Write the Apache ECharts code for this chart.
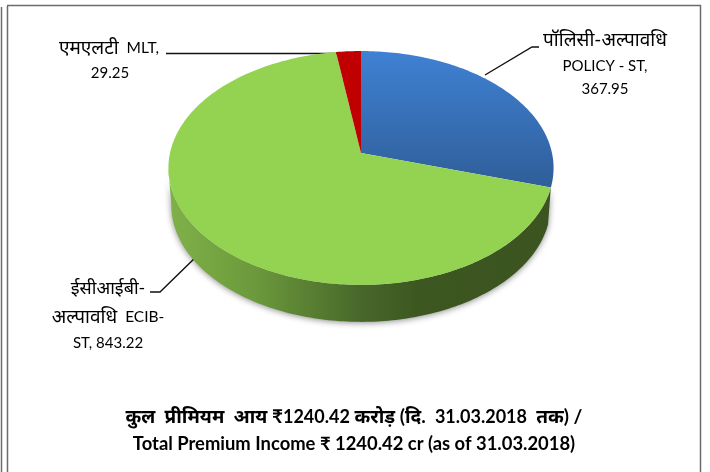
<!DOCTYPE html>
<html>
<head>
<meta charset="utf-8">
<style>
  html, body { margin: 0; padding: 0; background: #fff; }
  #chart { width: 710px; height: 472px; }
</style>
<script src="https://cdn.jsdelivr.net/npm/echarts@6/dist/echarts.min.js"></script>
</head>
<body>
<div id="chart"></div>
<script>
const chart = echarts.init(document.getElementById('chart'))

const categories = ['POLICY - ST', 'ECIB-ST', 'MLT']
const hindiNames = ['पॉलिसी-अल्पावधि', 'ईसीआईबी-', 'एमएलटी']
const premiumValues = [367.95, 843.22, 29.25]
const totalPremium = 1240.42
const asOfDate = '31.03.2018'

const fontFamily = 'Lato, "Noto Sans", "Noto Sans Devanagari", sans-serif'

// tilted disc: a circle seen in perspective, apex is not the ellipse centre
const apexX = 361
const apexY = 153
const radiusX = 191
const radiusY = 115
const tilt = -0.128
const depth = 37
const frontEnd = 262.6

const total = premiumValues.reduce((a, b) => a + b, 0)

const project = (deg, shrink, drop) => {
  const t = deg * Math.PI / 180
  const u = Math.sin(t)
  const v = -Math.cos(t)
  const d = 1 + tilt * v
  return [apexX + radiusX * shrink * u / d, apexY + radiusY * v / d + drop]
}

const arc = (from, to, shrink, drop) => {
  const pts = []
  const n = Math.max(2, Math.ceil(Math.abs(to - from)))
  for (let i = 0; i <= n; i++) {
    pts.push(project(from + (to - from) * i / n, shrink, drop))
  }
  return pts
}

const blueFill = new echarts.graphic.LinearGradient(0, 0, 0, 1, [
  { offset: 0, color: '#3f81d3' },
  { offset: 1, color: '#2f5e99' }
])
const greenFill = '#94d352'
const redFill = '#c00000'
const topFills = [blueFill, greenFill, redFill]

const wallFill = new echarts.graphic.LinearGradient(0, 0, 1, 0, [
  { offset: 0, color: '#80b148' },
  { offset: 0.22, color: '#6c9a3c' },
  { offset: 0.5, color: '#48682a' },
  { offset: 0.65, color: '#3d5721' },
  { offset: 1, color: '#3b5420' }
])

const renderSlice = (params, api) => {
  const value = api.value(0)
  let before = 0
  for (let i = 0; i < params.dataIndex; i++) before += premiumValues[i]
  const start = before / total * 360
  const end = (before + value) / total * 360
  const children = []

  // only the big slice shows its side, the rest of the rim faces away
  if (start < frontEnd && end > frontEnd) {
    const rim = arc(start, frontEnd, 1, 0)
    const base = arc(frontEnd, start, 0.985, depth)
    children.push({
      type: 'polygon',
      z2: 1,
      shape: { points: rim.concat(base) },
      style: {
        fill: wallFill,
        shadowBlur: 6,
        shadowColor: 'rgba(0,0,0,0.45)',
        shadowOffsetY: 1
      }
    })
  }

  children.push({
    type: 'polygon',
    z2: 10,
    shape: { points: [[apexX, apexY]].concat(arc(start, end, 1, 0)) },
    style: { fill: topFills[params.dataIndex] }
  })
  return { type: 'group', children: children }
}

// hindi runs need a bigger size than latin ones to look the same height
const hi = (s) => '{h|' + s + '}'
const en = (s) => '{e|' + s + '}'

const label = (text, x, y, hindiSize, latinSize, weight) => ({
  type: 'text',
  x: x,
  y: y,
  style: {
    text: text,
    fill: '#000',
    align: 'center',
    verticalAlign: 'middle',
    rich: {
      h: { fontFamily: fontFamily, fontSize: hindiSize, fontWeight: weight || 'normal', fill: '#000' },
      e: { fontFamily: fontFamily, fontSize: latinSize, fontWeight: weight || 'normal', fill: '#000' }
    }
  }
})

const leader = (points) => ({
  type: 'polyline',
  shape: { points: points },
  style: { stroke: '#111', lineWidth: 1.4, fill: null }
})

const frameLine = (x1, y1, x2, y2) => ({
  type: 'line',
  shape: { x1: x1, y1: y1, x2: x2, y2: y2 },
  style: { stroke: '#6b6b6b', lineWidth: 1.5 }
})

let option = {
  backgroundColor: '#fff',
  animation: false,
  tooltip: { show: false },
  graphic: [
    frameLine(1.5, 7, 1.5, 472),
    frameLine(7.5, 6, 7.5, 472),
    frameLine(7, 5.5, 701, 5.5),
    frameLine(700.5, 5, 700.5, 472),

    leader([[166, 53.5], [337, 53.5]]),
    leader([[485, 75], [532, 47], [539, 47]]),
    leader([[199, 254], [160, 292], [150, 292]]),

    label(hi(hindiNames[2]) + en('  ' + categories[2] + ','), 109, 48, 19, 15.5),
    label(en(String(premiumValues[2])), 110, 73, 18, 15),

    label(hi(hindiNames[0]), 605, 40, 19, 15),
    label(en(categories[0] + ','), 605, 66, 18, 15),
    label(en(String(premiumValues[0])), 605, 89, 18, 15),

    label(hi(hindiNames[1]), 108, 288, 18, 15),
    label(hi('अल्पावधि') + en('  ECIB-'), 108, 317, 19, 15.5),
    label(en('ST, ' + premiumValues[1]), 108, 343, 18, 15),

    label(hi('कुल  प्रीमियम  आय ₹') + en(String(totalPremium)) + hi(' करोड़ (दि.  ') + en(asOfDate) + hi('  तक) /'), 354, 417, 19, 18, 'bold'),
    label(en('Total Premium Income ₹ ' + totalPremium + ' cr (as of ' + asOfDate + ')'), 354, 444, 19, 18.4, 'bold')
  ],
  series: [
    {
      type: 'custom',
      coordinateSystem: 'none',
      silent: true,
      renderItem: renderSlice,
      data: premiumValues.map((v, i) => ({ name: categories[i], value: [v] }))
    }
  ]
}
chart.setOption(option)
</script>
</body>
</html>
